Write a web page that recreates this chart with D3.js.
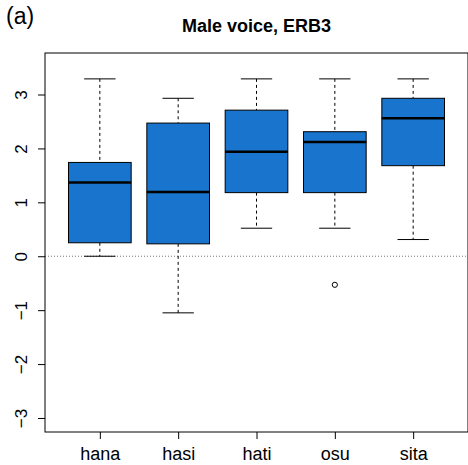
<!DOCTYPE html>
<html lang="en">
  <head>
    <meta charset="utf-8">
    <title>Male voice, ERB3</title>
    <script type="text/javascript" src="https://d3js.org/d3.v7.min.js"></script>
    <style type="text/css">
        body { margin: 0; background: #fff; }
        text { font-family: "Liberation Sans", Arial, sans-serif; fill: #000; }
    </style>
  </head>
  <body>
    <div id="chart"></div>
    <script type="text/javascript">

      // data
      var words = ["hana", "hasi", "hati", "osu", "sita"];
      var lowWhisker = [0.00, -1.05, 0.52, 0.52, 0.31];
      var q1 = [0.25, 0.23, 1.18, 1.18, 1.68];
      var medians = [1.37, 1.19, 1.94, 2.12, 2.56];
      var q3 = [1.74, 2.47, 2.71, 2.31, 2.93];
      var highWhisker = [3.29, 2.93, 3.29, 3.29, 3.29];
      var outliers = [{word: "osu", value: -0.53}];
      var yTicks = [-3, -2, -1, 0, 1, 2, 3];

      var width = 468, height = 465;
      var plotLeft = 45, plotRight = 468, plotTop = 53, plotBottom = 432;

      var svg = d3.select("#chart").append("svg")
          .attr("width", width)
          .attr("height", height);

      // R style: positions 1..5, xlim 0.5..5.5 padded 4%
      var x = d3.scaleLinear().domain([0.3, 5.7]).range([plotLeft, plotRight]);
      var y = d3.scaleLinear().domain([-3.26, 3.77]).range([plotBottom, plotTop]);

      var boxes = words.map(function(w, i) {
        return {word: w, pos: i + 1, lo: lowWhisker[i], q1: q1[i], med: medians[i], q3: q3[i], hi: highWhisker[i]};
      });

      // zero reference line
      svg.append("line")
          .attr("x1", plotLeft).attr("x2", plotRight)
          .attr("y1", y(0)).attr("y2", y(0))
          .attr("stroke", "#777")
          .attr("stroke-width", 1)
          .attr("stroke-dasharray", "1,2");

      var g = svg.selectAll(".box").data(boxes).enter().append("g").attr("class", "box");

      // whiskers
      g.append("line")
          .attr("x1", function(d) { return x(d.pos); })
          .attr("x2", function(d) { return x(d.pos); })
          .attr("y1", function(d) { return y(d.hi); })
          .attr("y2", function(d) { return y(d.q3); })
          .attr("stroke", "#000").attr("stroke-dasharray", "3,3");
      g.append("line")
          .attr("x1", function(d) { return x(d.pos); })
          .attr("x2", function(d) { return x(d.pos); })
          .attr("y1", function(d) { return y(d.q1); })
          .attr("y2", function(d) { return y(d.lo); })
          .attr("stroke", "#000").attr("stroke-dasharray", "3,3");

      // caps
      ["hi", "lo"].forEach(function(k) {
        g.append("line")
            .attr("x1", function(d) { return x(d.pos - 0.2); })
            .attr("x2", function(d) { return x(d.pos + 0.2); })
            .attr("y1", function(d) { return y(d[k]); })
            .attr("y2", function(d) { return y(d[k]); })
            .attr("stroke", "#000");
      });

      // boxes
      g.append("rect")
          .attr("x", function(d) { return x(d.pos - 0.4); })
          .attr("width", function(d) { return x(d.pos + 0.4) - x(d.pos - 0.4); })
          .attr("y", function(d) { return y(d.q3); })
          .attr("height", function(d) { return y(d.q1) - y(d.q3); })
          .attr("fill", "#1874CD")
          .attr("stroke", "#000")
          .attr("stroke-width", 1);

      // medians
      g.append("line")
          .attr("x1", function(d) { return x(d.pos - 0.4); })
          .attr("x2", function(d) { return x(d.pos + 0.4); })
          .attr("y1", function(d) { return y(d.med); })
          .attr("y2", function(d) { return y(d.med); })
          .attr("stroke", "#000")
          .attr("stroke-width", 2.5);

      // outliers
      svg.selectAll(".outlier").data(outliers).enter().append("circle")
          .attr("cx", function(d) { return x(words.indexOf(d.word) + 1); })
          .attr("cy", function(d) { return y(d.value); })
          .attr("r", 2.6)
          .attr("fill", "none")
          .attr("stroke", "#000");

      // plot frame
      svg.append("rect")
          .attr("x", plotLeft).attr("y", plotTop)
          .attr("width", plotRight - plotLeft).attr("height", plotBottom - plotTop)
          .attr("fill", "none").attr("stroke", "#000");

      // y axis
      var yAxis = svg.append("g").attr("transform", "translate(" + plotLeft + ",0)")
          .call(d3.axisLeft(y).tickValues(yTicks).tickSize(7).tickPadding(0));
      yAxis.select(".domain").remove();
      yAxis.selectAll("text").remove();
      yAxis.selectAll(".tick").append("text")
          .attr("transform", "translate(-24,0) rotate(-90)")
          .attr("text-anchor", "middle")
          .attr("dy", "0.35em")
          .style("font-size", "17px")
          .text(function(d) { return d < 0 ? "\u2212" + Math.abs(d) : d; });

      // x axis
      var xAxis = svg.append("g").attr("transform", "translate(0," + plotBottom + ")")
          .call(d3.axisBottom(x).tickValues([1, 2, 3, 4, 5]).tickSize(7)
                .tickFormat(function(d) { return words[d - 1]; }));
      xAxis.select(".domain").remove();
      xAxis.selectAll("text")
          .attr("y", 28)
          .attr("dy", 0)
          .style("font-size", "18px");

      // titles
      svg.append("text")
          .attr("x", (plotLeft + plotRight) / 2)
          .attr("y", 32)
          .attr("text-anchor", "middle")
          .style("font-size", "18px")
          .style("font-weight", "bold")
          .text("Male voice, ERB3");

      svg.append("text")
          .attr("x", 6)
          .attr("y", 24)
          .style("font-size", "23px")
          .text("(a)");

    </script>
  </body>
</html>
